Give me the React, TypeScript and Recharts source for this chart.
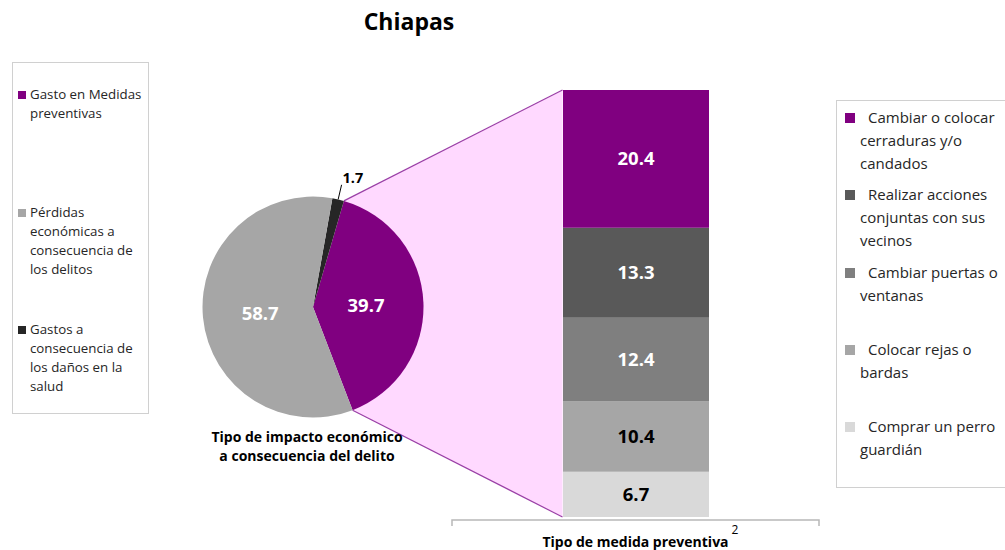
import { PieChart, Pie, Cell, BarChart, Bar, XAxis, YAxis, LabelList } from 'recharts';

// Pie: economic impact types (Chiapas)
const impactLabels = [
  'Gasto en Medidas\npreventivas',
  'Gastos a\nconsecuencia de\nlos daños en la\nsalud',
  'Pérdidas\neconómicas a\nconsecuencia de\nlos delitos',
];
const impactValues = [39.7, 1.7, 58.7];
const impactColors = ['#800080', '#262626', '#A6A6A6'];
// order shown in the left legend box
const impactLegendOrder = [0, 2, 1];

// Stacked bar: preventive measures (bottom -> top)
const measureLabels = [
  'Comprar un perro\nguardián',
  'Colocar rejas o\nbardas',
  'Cambiar puertas o\nventanas',
  'Realizar acciones\nconjuntas con sus\nvecinos',
  'Cambiar o colocar\ncerraduras y/o\ncandados',
];
const measureValues = [6.7, 10.4, 12.4, 13.3, 20.4];
const measureColors = ['#D9D9D9', '#A6A6A6', '#7F7F7F', '#595959', '#800080'];
const measureLabelColors = ['#000000', '#000000', '#FFFFFF', '#FFFFFF', '#FFFFFF'];

const W = 1005;
const H = 550;
const FONT = '"Open Sans", Lato, sans-serif';

// pie geometry
const PIE_CX = 313;
const PIE_CY = 307;
const PIE_R = 110.5;
const PIE_START = -69;

// bar plot area
const BAR_LEFT = 452;
const BAR_RIGHT = 819;
const BAR_TOP = 90;
const BAR_BOTTOM = 517;
const BAR_SIZE = 146;

const RAD = Math.PI / 180;

const pieData = impactLabels.map((label, i) => ({ name: label, value: impactValues[i] }));
const barRow: Record<string, number | string> = { name: 'Tipo de medida preventiva' };
measureValues.forEach((v, i) => {
  barRow[`m${i}`] = v;
});
const barData = [barRow];

function pieLabel(props: any) {
  const { cx, cy, midAngle, outerRadius, index, value } = props;
  const txt = Number(value).toFixed(1);
  if (index === 1) {
    // small slice: label outside with a leader line
    const x1 = cx + outerRadius * Math.cos(-midAngle * RAD);
    const y1 = cy + outerRadius * Math.sin(-midAngle * RAD);
    const x2 = cx + (outerRadius + 15) * Math.cos(-midAngle * RAD);
    const y2 = cy + (outerRadius + 15) * Math.sin(-midAngle * RAD);
    return (
      <g>
        <line x1={x1} y1={y1} x2={x2} y2={y2} stroke="#000" strokeWidth={1} />
        <text x={x2 + 1} y={y2 - 7} fontFamily={FONT} fontSize={14.5} fontWeight="bold" fill="#000" dominantBaseline="central">
          {txt}
        </text>
      </g>
    );
  }
  const r = outerRadius * 0.48;
  const x = cx + r * Math.cos(-midAngle * RAD);
  const y = cy + r * Math.sin(-midAngle * RAD);
  return (
    <text x={x} y={y} fontFamily={FONT} fontSize={18.5} fontWeight="bold" fill="#FFFFFF" textAnchor="middle" dominantBaseline="central">
      {txt}
    </text>
  );
}

export default function App() {
  // connector between the purple slice and the stacked bar
  const pieTotal = impactValues.reduce((s, v) => s + v, 0);
  const a0 = PIE_START;
  const a1 = PIE_START + (360 * impactValues[0]) / pieTotal;
  const pt = (a: number) => [PIE_CX + PIE_R * Math.cos(a * RAD), PIE_CY - PIE_R * Math.sin(a * RAD)];
  const [bx0, by0] = pt(a0);
  const [bx1, by1] = pt(a1);
  const barX = (BAR_LEFT + BAR_RIGHT) / 2 - BAR_SIZE / 2;
  const axisY = BAR_BOTTOM + 3;

  return (
    <div style={{ position: 'absolute', left: 0, top: 0, width: W, height: H, background: '#fff', fontFamily: FONT, overflow: 'hidden' }}>
      <div style={{ position: 'absolute', left: 0, width: 818, top: 5, textAlign: 'center', fontSize: 23, fontWeight: 'bold', color: '#000' }}>
        Chiapas
      </div>

      {/* stacked bar */}
      <div style={{ position: 'absolute', left: 0, top: 0 }}>
        <BarChart width={W} height={H} data={barData} margin={{ top: BAR_TOP, right: W - BAR_RIGHT, bottom: 0, left: BAR_LEFT }} barSize={BAR_SIZE}>
          <XAxis dataKey="name" tick={false} tickLine={false} axisLine={false} height={H - BAR_BOTTOM} />
          <YAxis hide domain={[0, measureValues.reduce((s, v) => s + v, 0)]} />
          {measureValues.map((_, i) => (
            <Bar key={i} dataKey={`m${i}`} stackId="a" fill={measureColors[i]} isAnimationActive={false}>
              <LabelList
                dataKey={`m${i}`}
                position="center"
                formatter={(v: any) => Number(v).toFixed(1)}
                fill={measureLabelColors[i]}
                fontSize={18.5}
                fontWeight="bold"
                fontFamily={FONT}
              />
            </Bar>
          ))}
        </BarChart>
      </div>

      {/* connector + axis bracket */}
      <svg width={W} height={H} style={{ position: 'absolute', left: 0, top: 0 }}>
        <polygon points={`${bx1},${by1} ${barX},${BAR_TOP} ${barX},${BAR_BOTTOM} ${bx0},${by0}`} fill="#FFD9FF" />
        <line x1={bx1} y1={by1} x2={barX} y2={BAR_TOP} stroke="#9A3FA6" strokeWidth={1.2} />
        <line x1={bx0} y1={by0} x2={barX} y2={BAR_BOTTOM} stroke="#9A3FA6" strokeWidth={1.2} />
        <path d={`M${BAR_LEFT},${axisY + 6} V${axisY} H${BAR_RIGHT} V${axisY + 6}`} fill="none" stroke="#B8B8B8" strokeWidth={1.5} />
      </svg>

      {/* pie */}
      <div style={{ position: 'absolute', left: 0, top: 0 }}>
        <PieChart width={W} height={H} margin={{ top: 0, right: 0, bottom: 0, left: 0 }}>
          <Pie
            data={pieData}
            dataKey="value"
            cx={PIE_CX}
            cy={PIE_CY}
            outerRadius={PIE_R}
            startAngle={PIE_START}
            endAngle={PIE_START + 360}
            stroke="none"
            label={pieLabel}
            labelLine={false}
            isAnimationActive={false}
          >
            {pieData.map((_, i) => (
              <Cell key={i} fill={impactColors[i]} />
            ))}
          </Pie>
        </PieChart>
      </div>

      {/* pie caption */}
      <div style={{ position: 'absolute', left: 157, width: 300, top: 427, textAlign: 'center', fontSize: 14, fontWeight: 'bold', lineHeight: '19px', color: '#000' }}>
        Tipo de impacto económico
        <br />a consecuencia del delito
      </div>

      {/* bar axis title */}
      <div style={{ position: 'absolute', left: BAR_LEFT, width: BAR_RIGHT - BAR_LEFT, top: 534, textAlign: 'center', fontSize: 14, fontWeight: 'bold', lineHeight: '16px', color: '#000' }}>
        <span style={{ position: 'relative' }}>
          Tipo de medida preventiva
          <span style={{ position: 'absolute', left: '100%', top: -10, marginLeft: 3, fontWeight: 'normal', fontSize: 12 }}>2</span>
        </span>
      </div>

      {/* left legend */}
      <div style={{ position: 'absolute', left: 12, top: 62, width: 135, height: 350, border: '1px solid #D0D0D0' }} />
      {impactLegendOrder.map((idx, k) => (
        <div key={idx} style={{ position: 'absolute', left: 18, top: [84.5, 202.5, 319.5][k], fontSize: 13.3, lineHeight: '19px', color: '#262626' }}>
          <span style={{ position: 'absolute', left: 0, top: 6, width: 8, height: 8, background: impactColors[idx] }} />
          <div style={{ paddingLeft: 12, whiteSpace: 'pre-line' }}>{impactLabels[idx]}</div>
        </div>
      ))}

      {/* right legend */}
      <div style={{ position: 'absolute', left: 836, top: 100, width: 200, height: 386, border: '1px solid #D0D0D0' }} />
      {measureLabels
        .map((_, i) => measureLabels.length - 1 - i)
        .map((idx, k) => (
          <div key={idx} style={{ position: 'absolute', left: 845, top: [105.5, 182.5, 260.5, 337.5, 414.5][k], fontSize: 15, lineHeight: '23px', color: '#262626', width: 180, whiteSpace: 'nowrap' }}>
            <span style={{ position: 'absolute', left: 0, top: 7, width: 10, height: 10, background: measureColors[idx] }} />
            <div style={{ paddingLeft: 15, textIndent: 8, whiteSpace: 'pre-line' }}>{measureLabels[idx]}</div>
          </div>
        ))}
    </div>
  );
}
